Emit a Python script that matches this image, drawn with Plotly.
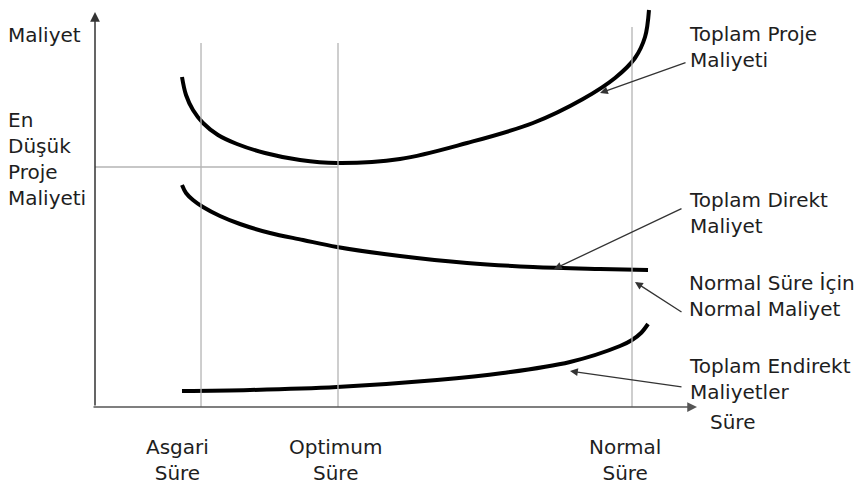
import plotly.graph_objects as go

# ---- data (abstract units: Süre on x, Maliyet on y) ----
toplam_proje_x = [14.5, 15.17, 16.33, 18.0, 20.5, 23.67, 28.33, 34.17, 40.33, 50.83, 62.0, 73.0, 81.33, 86.67, 90.0, 91.67, 92.33]
toplam_proje_y = [82.5, 78.0, 74.25, 71.0, 68.0, 65.75, 63.5, 61.75, 61.0, 62.0, 66.0, 71.0, 77.0, 82.25, 87.25, 92.5, 99.25]

direkt_x = [14.5, 15.17, 16.33, 18.0, 20.83, 24.17, 29.17, 34.67, 40.33, 50.83, 62.0, 73.0, 84.17, 92.17]
direkt_y = [55.5, 53.5, 51.75, 50.0, 47.75, 45.75, 43.5, 41.75, 40.0, 37.75, 36.0, 35.0, 34.5, 34.25]

endirekt_x = [14.5, 25.83, 40.33, 57.0, 68.0, 79.17, 87.5, 89.5, 91.0, 92.17]
endirekt_y = [4.0, 4.25, 5.0, 6.75, 8.5, 11.25, 15.25, 16.75, 18.5, 20.75]

sure_labels = ["Asgari<br>Süre", "Optimum<br>Süre", "Normal<br>Süre"]
sure_values = [17.67, 40.5, 89.5]
sure_label_x = [13.67, 40.0, 88.33]
guide_tops = [91.0, 91.0, 95.0]
en_dusuk_maliyet = 60.0

FONT = "DejaVu Sans"
TXT = "#1e1e1e"

fig = go.Figure()

# guide lines
for xv, top in zip(sure_values, guide_tops):
    fig.add_shape(type="line", x0=xv, x1=xv, y0=0, y1=top, xref="x", yref="y",
                  line=dict(color="#b4b4b4", width=1.3))
fig.add_shape(type="line", x0=0, x1=sure_values[1], y0=en_dusuk_maliyet, y1=en_dusuk_maliyet,
              xref="x", yref="y", line=dict(color="#b4b4b4", width=1.3))

for xs, ys in [(toplam_proje_x, toplam_proje_y), (direkt_x, direkt_y), (endirekt_x, endirekt_y)]:
    fig.add_trace(go.Scatter(x=xs, y=ys, mode="lines",
                             line=dict(color="black", width=4, shape="spline", smoothing=1.0),
                             hoverinfo="skip", showlegend=False))

# axes with arrows
fig.add_annotation(x=0, y=98.75, ax=0, ay=0, xref="x", yref="y", axref="x", ayref="y", text="",
                   showarrow=True, arrowhead=2, arrowsize=1.3, arrowwidth=1.5, arrowcolor="#333", standoff=0)
fig.add_annotation(x=100.33, y=0, ax=-0.5, ay=0, xref="x", yref="y", axref="x", ayref="y", text="",
                   showarrow=True, arrowhead=2, arrowsize=1.3, arrowwidth=1.5, arrowcolor="#555", standoff=0)

# pointer arrows (head x,y ; tail ax,ay)
pointers = [
    (84.17, 78.5, 98.67, 86.25),
    (76.5, 34.5, 98.0, 49.75),
    (90.0, 31.25, 98.0, 23.5),
    (79.17, 9.0, 98.0, 5.0),
]
for hx, hy, tx, ty in pointers:
    fig.add_annotation(x=hx, y=hy, ax=tx, ay=ty, xref="x", yref="y", axref="x", ayref="y", text="",
                       showarrow=True, arrowhead=2, arrowsize=1.2, arrowwidth=1.3, arrowcolor="#333", standoff=0)

def txt(x, y, s, xanchor="left", align="left"):
    fig.add_annotation(x=x, y=y, xref="x", yref="y", text=s, showarrow=False, xanchor=xanchor, yanchor="middle",
                       align=align, font=dict(family=FONT, size=20, color=TXT))

txt(98.6, 90.1, "Toplam Proje<br>Maliyeti")
txt(98.6, 48.5, "Toplam Direkt<br>Maliyet")
txt(98.6, 27.75, "Normal Süre İçin<br>Normal Maliyet")
txt(98.6, 7.0, "Toplam Endirekt<br>Maliyetler")
txt(106.3, -3.75, "Süre", xanchor="center", align="center")
txt(-14.8, 93.0, "Maliyet")
txt(-14.8, 62.06, "En<br>Düşük<br>Proje<br>Maliyeti")
for lx, lab in zip(sure_label_x, sure_labels):
    txt(lx, -13.25, lab, xanchor="center", align="center")

fig.update_layout(
    width=861, height=492,
    margin=dict(l=0, r=0, t=0, b=0),
    paper_bgcolor="white", plot_bgcolor="white",
    xaxis=dict(range=[-95/6, 766/6], visible=False, fixedrange=True),
    yaxis=dict(range=[-85/4, 407/4], visible=False, fixedrange=True),
)
fig.write_html("out.html", config={"displayModeBar": False},
               post_script="document.body.style.margin='0px';")
